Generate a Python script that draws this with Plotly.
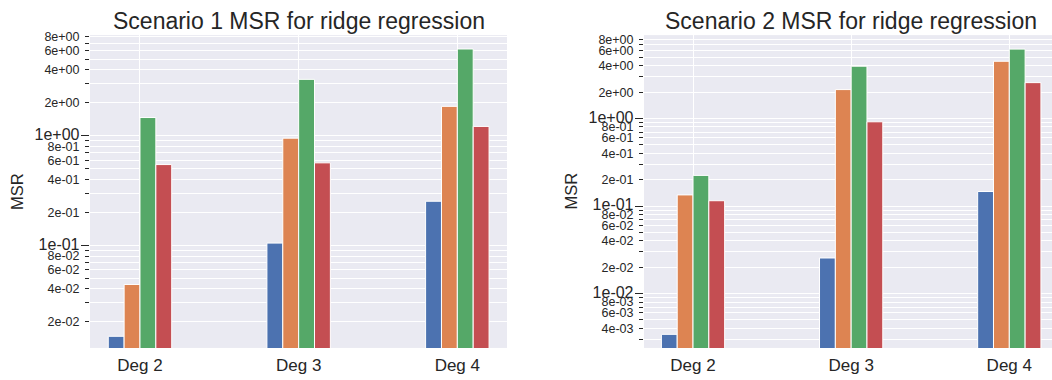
import math
import plotly.graph_objects as go

categories = ["Deg 2", "Deg 3", "Deg 4"]
series_names = ["Series 1", "Series 2", "Series 3", "Series 4"]
colors = ["#4C72B0", "#DD8452", "#55A868", "#C44E52"]

# Scenario 1 values (per series, across Deg 2..4)
s1_values = [
    [0.0148, 0.105, 0.253],
    [0.044, 0.953, 1.86],
    [1.47, 3.28, 6.21],
    [0.547, 0.567, 1.22],
]
# Scenario 2 values
s2_values = [
    [0.00342, 0.0255, 0.1465],
    [0.134, 2.14, 4.51],
    [0.224, 3.96, 6.21],
    [0.115, 0.917, 2.57],
]

titles = ["Scenario 1 MSR for ridge regression", "Scenario 2 MSR for ridge regression"]

W, H = 1052, 380
FONT = "Liberation Sans, Arial, sans-serif"
TXT = "#262626"

def log_ticks(lo, hi):
    vals, texts, majors = [], [], []
    for e in range(math.floor(math.log10(lo)) - 1, math.ceil(math.log10(hi)) + 1):
        for m in range(1, 10):
            v = m * 10 ** e
            if lo <= v <= hi:
                vals.append(v)
                if m == 1:
                    texts.append('<span style="font-size:16px">%.0e</span>' % v)
                    majors.append(v)
                elif m % 2 == 0:
                    texts.append("%.0e" % v)
                else:
                    texts.append("")
    return vals, texts, majors

fig = go.Figure()

panels = [
    dict(vals=s1_values, dom=(90, 507), yr=(-1.936, 0.920), xr=(-0.315, 2.313), tcx=298.5),
    dict(vals=s2_values, dom=(644, 1052), yr=(-2.621, 0.953), xr=(-0.31, 2.27), tcx=851),
]

ybot, ytop = 347.5, 30.5
for i, p in enumerate(panels):
    xa = "x" if i == 0 else "x2"
    ya = "y" if i == 0 else "y2"
    for j in range(4):
        fig.add_trace(go.Bar(
            x=categories, y=p["vals"][j], name=series_names[j],
            marker=dict(color=colors[j], line=dict(color="white", width=1)),
            xaxis=xa, yaxis=ya, showlegend=False,
        ))
    lo, hi = 10 ** p["yr"][0], 10 ** p["yr"][1]
    tv, tt, majors = log_ticks(lo, hi)
    axx = dict(domain=[p["dom"][0] / W, p["dom"][1] / W], range=list(p["xr"]),
               showgrid=True, gridcolor="white", gridwidth=1, ticks="",
               tickfont=dict(size=17, color=TXT, family=FONT), showline=False,
               zeroline=False, ticklabelstandoff=5)
    axy = dict(domain=[1 - ybot / H, 1 - ytop / H], type="log", range=list(p["yr"]),
               tickmode="array", tickvals=tv, ticktext=tt,
               showgrid=True, gridcolor="white", gridwidth=1,
               ticks="outside", ticklen=4, tickwidth=1, tickcolor="#262626",
               minor=dict(tickmode="array", tickvals=majors, ticks="outside", ticklen=8,
                          tickwidth=1, tickcolor="#262626", showgrid=False),
               tickfont=dict(size=12.5, color=TXT, family=FONT),
               showline=False, zeroline=False, ticklabelstandoff=3)
    if i == 0:
        axx["anchor"] = "y"
        axy["anchor"] = "x"
        fig.update_layout(xaxis=axx, yaxis=axy)
    else:
        axx["anchor"] = "y2"
        axy["anchor"] = "x2"
        fig.update_layout(xaxis2=axx, yaxis2=axy)

    fig.add_annotation(text=titles[i], x=p["tcx"] / W, y=1 - 16.5 / H, xref="paper", yref="paper",
                       xanchor="center", yanchor="middle", showarrow=False,
                       font=dict(size=23, color=TXT, family=FONT))
    fig.add_annotation(text="MSR", x=(16.5 if i == 0 else 571) / W, y=1 - 189 / H,
                       xref="paper", yref="paper", xanchor="center", yanchor="middle",
                       textangle=-90, showarrow=False,
                       font=dict(size=16.5, color=TXT, family=FONT))

fig.update_layout(
    width=W, height=H, margin=dict(l=0, r=0, t=0, b=0),
    paper_bgcolor="white", plot_bgcolor="#EAEAF2",
    barmode="group", bargap=0.6, bargroupgap=0,
    font=dict(family=FONT, color=TXT),
)

fig.write_html("out.html")
